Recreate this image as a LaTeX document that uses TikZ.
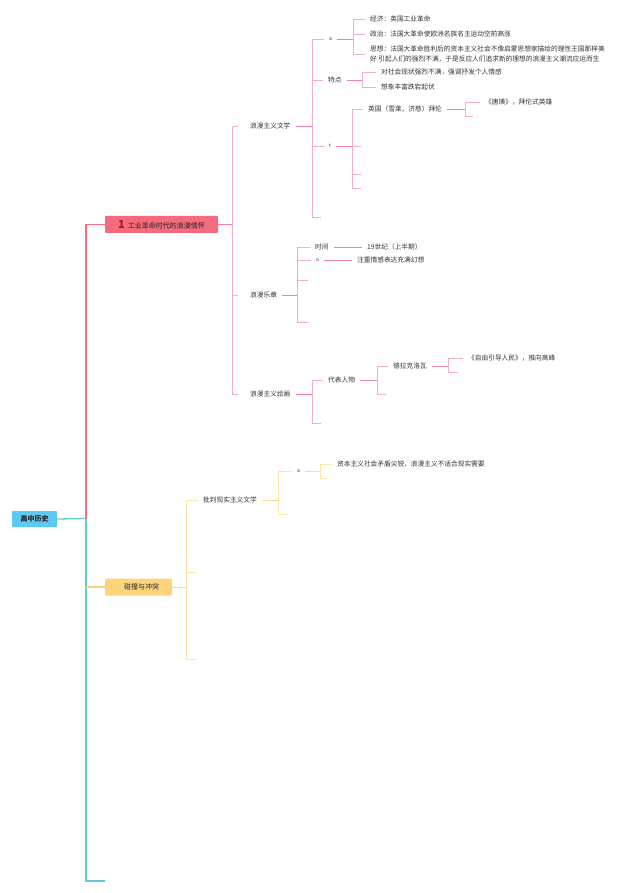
\documentclass[tikz,border=0pt]{standalone}
\usepackage{fontspec}
\setmainfont{Noto Sans CJK SC}
\definecolor{rootfill}{HTML}{5CC9F2}
\definecolor{pinkbox}{HTML}{F36B7C}
\definecolor{yelbox}{HTML}{FDD47A}
\definecolor{mainpink}{HTML}{F0707F}
\definecolor{teal}{HTML}{62CBD3}
\definecolor{subpink}{HTML}{F4B0C2}
\definecolor{subpinkdk}{HTML}{EE86A0}
\definecolor{subyel}{HTML}{FDE4A8}
\definecolor{yelline}{HTML}{FDD27A}
\definecolor{onered}{HTML}{B0102A}
\begin{document}
\begin{tikzpicture}[x=1pt,y=-1pt,
  lbl/.style={anchor=west,inner xsep=5pt,inner ysep=1pt,font=\fontsize{6.7}{10}\selectfont,text=black!80},
  small/.style={lbl,font=\fontsize{5}{6}\selectfont},
  boxst/.style={inner sep=0pt,rounded corners=0.8pt,font=\fontsize{7}{8}\selectfont,text=black!85},
  tealline/.style={draw=teal,line width=1.3pt},
  mainl/.style={draw=mainpink,line width=1.3pt},
  yelmain/.style={draw=yelline,line width=1.3pt},
  subl/.style={draw=subpink,line width=0.8pt},
  hl/.style={draw=subpinkdk,line width=0.9pt},
  yl/.style={draw=subyel,line width=0.8pt},
  yhl/.style={draw=yelline!80,line width=0.9pt}]
\useasboundingbox (0,0) rectangle (640,893);
\fill[white] (0,0) rectangle (640,893);

% main boxes
\node[boxst,fill=rootfill,minimum width=45pt,minimum height=16pt,font=\fontsize{7}{8}\selectfont\bfseries] (root) at (34.5,519) {高中历史};
\node[boxst,fill=pinkbox,minimum width=113pt,minimum height=17pt] (b1) at (161.5,224.5) {{\color{onered}\fontsize{11}{11}\selectfont\bfseries 1}\hspace{3pt}工业革命时代的浪漫情怀};
\node[boxst,fill=yelbox,minimum width=67pt,minimum height=17pt] (b2) at (138.5,587) {\hspace{6pt}碰撞与冲突};
\coordinate (spine) at (86,518.5);
\coordinate (c3) at (105,881);

\draw[tealline] (root.east) -- (spine);
\draw[tealline] (spine) -- (spine |- c3) -- (c3);
\draw[mainl] (spine) -- (spine |- b1.west) -- (b1.west);
\draw[yelmain] (spine |- b2.west) -- (b2.west);

% level 2 (pink)
\node[lbl] (lit) at (245,126) {浪漫主义文学};
\node[lbl] (mus) at (245,295) {浪漫乐章};
\node[lbl] (pnt) at (245,394) {浪漫主义绘画};
\coordinate (j1) at (232,224.5);
\draw[hl] (b1.east) -- (j1);
\draw[subl] (j1 |- lit.west) -- (j1 |- pnt.west);
\foreach \n in {lit,mus,pnt} \draw[subl] (j1 |- \n.west) -- ([xshift=-7pt]\n.west);

% under literature
\node[small] (a1) at (324,39) {a};
\node[lbl] (tedian) at (323,80) {特点};
\node[small] (t1) at (324,146) {t};
\coordinate (litE) at (321,217);
\coordinate (j2) at (312,126);
\draw[hl] (lit.east) -- (j2);
\draw[subl] (j2 |- a1.west) -- (j2 |- litE);
\foreach \n in {a1,tedian,t1,litE} \draw[subl] (j2 |- \n) -- (\n.west);

% under a
\node[lbl] (jj) at (365,19) {经济：英国工业革命};
\node[lbl] (zz) at (365,34) {政治：法国大革命使欧洲名族名主运动空前高涨};
\node[lbl,align=left] (sx) at (365,54) {思想：法国大革命胜利后的资本主义社会不像启蒙思想家描绘的理性王国那样美\\好 引起人们的强烈不满，于是反应人们追求新的理想的浪漫主义潮流应运而生};
\coordinate (j3) at (353,39);
\draw[hl] (a1.east) -- (j3);
\draw[subl] (j3 |- jj.west) -- (j3 |- sx.west);
\foreach \n in {jj,zz,sx} \draw[subl] (j3 |- \n.west) -- (\n.west);

% under tedian
\node[lbl] (ts1) at (376,72) {对社会现状强烈不满，强调抒发个人情感};
\node[lbl] (ts2) at (376,87) {想象丰富跌宕起伏};
\coordinate (j4) at (362,80);
\draw[hl] (tedian.east) -- (j4);
\draw[subl] (j4 |- ts1.west) -- (j4 |- ts2.west);
\foreach \n in {ts1,ts2} \draw[subl] (j4 |- \n.west) -- (\n.west);

% under t
\node[lbl] (yg) at (363,109) {英国（雪莱，济慈）拜伦};
\coordinate (te1) at (361,146);
\coordinate (te2) at (361,174);
\coordinate (te3) at (361,188);
\coordinate (j5) at (352,146);
\draw[hl] (t1.east) -- (j5);
\draw[subl] (j5 |- yg.west) -- (j5 |- te3);
\draw[subl] (j5 |- yg.west) -- (yg.west);
\foreach \n in {te1,te2,te3} \draw[subl] (j5 |- \n) -- (\n);

\node[lbl] (tj) at (480,102) {《唐璜》，拜伦式英雄};
\coordinate (yge) at (473,116);
\coordinate (j6) at (465,109);
\draw[hl] (yg.east) -- (j6);
\draw[subl] (j6 |- tj.west) -- (j6 |- yge);
\draw[subl] (j6 |- tj.west) -- (tj.west);
\draw[subl] (j6 |- yge) -- (yge);

% under music
\node[lbl] (sj) at (310,247) {时间};
\node[small] (o1) at (311,260) {o};
\coordinate (me1) at (308,280);
\coordinate (me2) at (308,322);
\coordinate (j7) at (297,295);
\draw[hl] (mus.east) -- (j7);
\draw[subl] (j7 |- sj.west) -- (j7 |- me2);
\foreach \n in {sj,o1} \draw[subl] (j7 |- \n.west) -- (\n.west);
\foreach \n in {me1,me2} \draw[subl] (j7 |- \n) -- (\n);
\node[lbl] (sn) at (362,247) {19世纪（上半期）};
\node[lbl] (zq) at (352,260) {注重情感表达充满幻想};
\draw[hl] (sj.east) -- (sn.west);
\draw[hl] (o1.east) -- (zq.west);

% under painting
\node[lbl] (dbrw) at (323,380) {代表人物};
\coordinate (pe) at (321,423);
\coordinate (j8) at (312,394);
\draw[hl] (pnt.east) -- (j8);
\draw[subl] (j8 |- dbrw.west) -- (j8 |- pe);
\draw[subl] (j8 |- dbrw.west) -- (dbrw.west);
\draw[subl] (j8 |- pe) -- (pe);

\node[lbl] (dlkl) at (388,366) {德拉克洛瓦};
\coordinate (de) at (386,394);
\coordinate (j9) at (377,380);
\draw[hl] (dbrw.east) -- (j9);
\draw[subl] (j9 |- dlkl.west) -- (j9 |- de);
\draw[subl] (j9 |- dlkl.west) -- (dlkl.west);
\draw[subl] (j9 |- de) -- (de);

\node[lbl] (zyyd) at (463,358) {《自由引导人民》，推向高峰};
\coordinate (dle) at (458,372);
\coordinate (j10) at (448,366);
\draw[hl] (dlkl.east) -- (j10);
\draw[subl] (j10 |- zyyd.west) -- (j10 |- dle);
\draw[subl] (j10 |- zyyd.west) -- (zyyd.west);
\draw[subl] (j10 |- dle) -- (dle);

% yellow branch
\node[lbl] (pp) at (198,500) {批判现实主义文学};
\coordinate (ye1) at (195,572);
\coordinate (ye2) at (195,659);
\coordinate (j11) at (186,587);
\draw[yhl] (b2.east) -- (j11);
\draw[yl] (j11 |- pp.west) -- (j11 |- ye2);
\draw[yl] (j11 |- pp.west) -- (pp.west);
\foreach \n in {ye1,ye2} \draw[yl] (j11 |- \n) -- (\n);

\node[small] (a2) at (292,471) {a};
\coordinate (ppe) at (287,514);
\coordinate (j12) at (278,500);
\draw[yhl] (pp.east) -- (j12);
\draw[yl] (j12 |- a2.west) -- (j12 |- ppe);
\draw[yl] (j12 |- a2.west) -- (a2.west);
\draw[yl] (j12 |- ppe) -- (ppe);

\node[lbl] (zb) at (332,464) {资本主义社会矛盾尖锐，浪漫主义不适合现实需要};
\coordinate (a2e) at (327,478);
\coordinate (j13) at (320,471);
\draw[yhl] (a2.east) -- (j13);
\draw[yl] (j13 |- zb.west) -- (j13 |- a2e);
\draw[yl] (j13 |- zb.west) -- (zb.west);
\draw[yl] (j13 |- a2e) -- (a2e);
\end{tikzpicture}
\end{document}
